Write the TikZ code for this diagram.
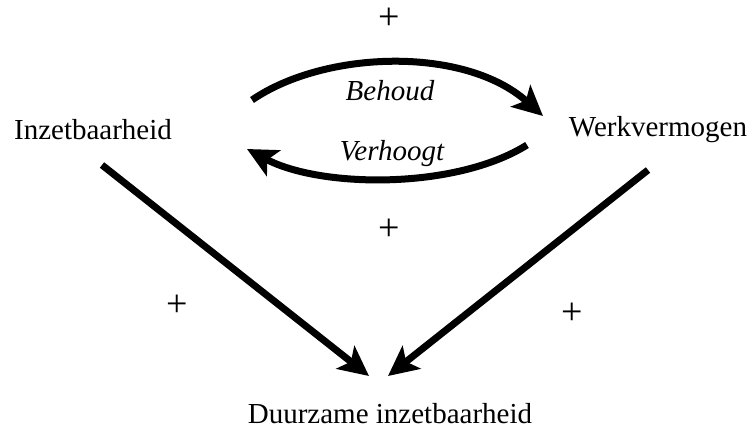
\documentclass[tikz,border=0pt]{standalone}
\usepackage{fontspec}
\setmainfont{Liberation Serif}
\usetikzlibrary{arrows.meta}
\begin{document}
\begin{tikzpicture}[x=1pt,y=-1pt,
  lbl/.style={font=\fontsize{29}{34}\selectfont, inner sep=0pt},
  ital/.style={font=\fontsize{29}{34}\selectfont\itshape, inner sep=0pt},
  pl/.style={font=\fontsize{38}{42}\selectfont, inner sep=0pt, text height=20pt, text depth=0pt, anchor=base},
  conn/.style={line width=7pt, -{Stealth[length=30pt,width=29pt,inset=7pt]}}]
\useasboundingbox (0,0) rectangle (753,434);
\node[lbl] (inz) at (93,130) {Inzetbaarheid};
\node[lbl] (werk) at (658,130) {Werkvermogen};
\node[lbl] (duur) at (390,414) {Duurzame inzetbaarheid};
\node[ital] (beh) at (390,91) {Behoud};
\node[ital] (verh) at (392,154) {Verhoogt};
\node[pl] (p1) at (389,29) {+};
\node[pl] (p2) at (389,240) {+};
\node[pl] (p3) at (177,316) {+};
\node[pl] (p4) at (572,324) {+};
\coordinate (a1s) at (252,100);
\coordinate (a1e) at (543,116);
\coordinate (a2s) at (527,145);
\coordinate (a2e) at (247,149);
\coordinate (d1s) at (102,165);
\coordinate (d1e) at (369,376);
\coordinate (d2s) at (648,170);
\coordinate (d2e) at (388,376);
\draw[conn] (a1s) .. controls (325,50) and (465,46) .. (a1e);
\draw[conn] (a2s) .. controls (455,190) and (320,188) .. (a2e);
\draw[conn] (d1s) -- (d1e);
\draw[conn] (d2s) -- (d2e);
\end{tikzpicture}
\end{document}
